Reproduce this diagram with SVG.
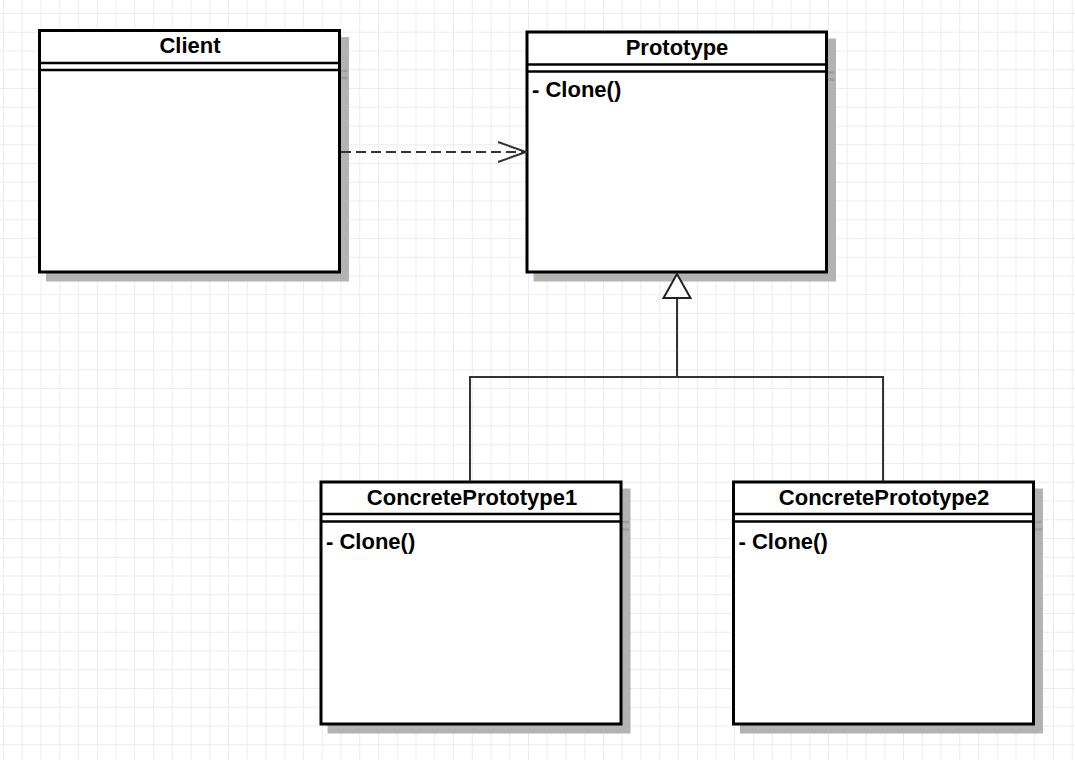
<svg xmlns="http://www.w3.org/2000/svg" width="1075" height="760" viewBox="0 0 1075 760">
  <defs>
    <pattern id="grid" patternUnits="userSpaceOnUse" x="3" y="13" width="18.75" height="18.75">
      <path d="M0 0.5H18.75M0.5 0V18.75" fill="none" stroke="#ebebf9" stroke-width="1"/>
    </pattern>
    <marker id="open" markerUnits="userSpaceOnUse" markerWidth="34" markerHeight="26" refX="30" refY="12" orient="auto">
      <path d="M2 2L30 12L2 22" fill="none" stroke="#333" stroke-width="2"/>
    </marker>
  </defs>
  <style>
    .box{fill:#fff;stroke:#000;stroke-width:3}
    .div{stroke:#000;stroke-width:2.6}
    .sh{fill:#b3b3b3;stroke:#b3b3b3;stroke-width:3}
    .shl{stroke:#9e9e9e;stroke-width:2.6}
    .t{font-family:"Liberation Sans",Arial,sans-serif;font-weight:bold;font-size:22px;fill:#000}
    .c{text-anchor:middle}
    .edge{fill:none;stroke:#333;stroke-width:2}
  </style>
  <rect width="1075" height="760" fill="#fff"/>
  <rect width="1075" height="760" fill="url(#grid)"/>

  <g id="client">
    <g transform="translate(8,8)">
      <rect class="sh" x="39.5" y="30.5" width="300" height="241.5"/>
      <line class="shl" x1="39.5" y1="63" x2="339.5" y2="63"/>
      <line class="shl" x1="39.5" y1="70" x2="339.5" y2="70"/>
    </g>
    <rect class="box" x="39.5" y="30.5" width="300" height="241.5"/>
    <line class="div" x1="39.5" y1="63" x2="339.5" y2="63"/>
    <line class="div" x1="39.5" y1="70" x2="339.5" y2="70"/>
    <text class="t c" x="190" y="53">Client</text>
  </g>

  <g id="prototype">
    <g transform="translate(8,8)">
      <rect class="sh" x="527" y="32" width="299.5" height="240"/>
      <line class="shl" x1="527" y1="64.5" x2="826.5" y2="64.5"/>
      <line class="shl" x1="527" y1="71.5" x2="826.5" y2="71.5"/>
    </g>
    <rect class="box" x="527" y="32" width="299.5" height="240"/>
    <line class="div" x1="527" y1="64.5" x2="826.5" y2="64.5"/>
    <line class="div" x1="527" y1="71.5" x2="826.5" y2="71.5"/>
    <text class="t c" x="677" y="55">Prototype</text>
    <text class="t" x="532" y="97">- Clone()</text>
  </g>

  <g id="concrete1">
    <g transform="translate(8,8)">
      <rect class="sh" x="321" y="482" width="300" height="242"/>
      <line class="shl" x1="321" y1="514" x2="621" y2="514"/>
      <line class="shl" x1="321" y1="521.5" x2="621" y2="521.5"/>
    </g>
    <rect class="box" x="321" y="482" width="300" height="242"/>
    <line class="div" x1="321" y1="514" x2="621" y2="514"/>
    <line class="div" x1="321" y1="521.5" x2="621" y2="521.5"/>
    <text class="t c" x="472" y="504.5">ConcretePrototype1</text>
    <text class="t" x="326" y="548.5">- Clone()</text>
  </g>

  <g id="concrete2">
    <g transform="translate(8,8)">
      <rect class="sh" x="733.5" y="482" width="300" height="242"/>
      <line class="shl" x1="733.5" y1="514" x2="1033.5" y2="514"/>
      <line class="shl" x1="733.5" y1="521.5" x2="1033.5" y2="521.5"/>
    </g>
    <rect class="box" x="733.5" y="482" width="300" height="242"/>
    <line class="div" x1="733.5" y1="514" x2="1033.5" y2="514"/>
    <line class="div" x1="733.5" y1="521.5" x2="1033.5" y2="521.5"/>
    <text class="t c" x="884" y="504.5">ConcretePrototype2</text>
    <text class="t" x="738.5" y="548.5">- Clone()</text>
  </g>

  <g id="connectors">
    <line class="edge" x1="341" y1="152" x2="526" y2="152" stroke-dasharray="10,5" marker-end="url(#open)"/>
    <polyline class="edge" points="470,481 470,377 883,377 883,481"/>
    <line class="edge" x1="677" y1="377" x2="677" y2="298"/>
    <polygon points="677,274 663.5,298 690.5,298" fill="#fff" stroke="#222" stroke-width="2"/>
  </g>
</svg>
